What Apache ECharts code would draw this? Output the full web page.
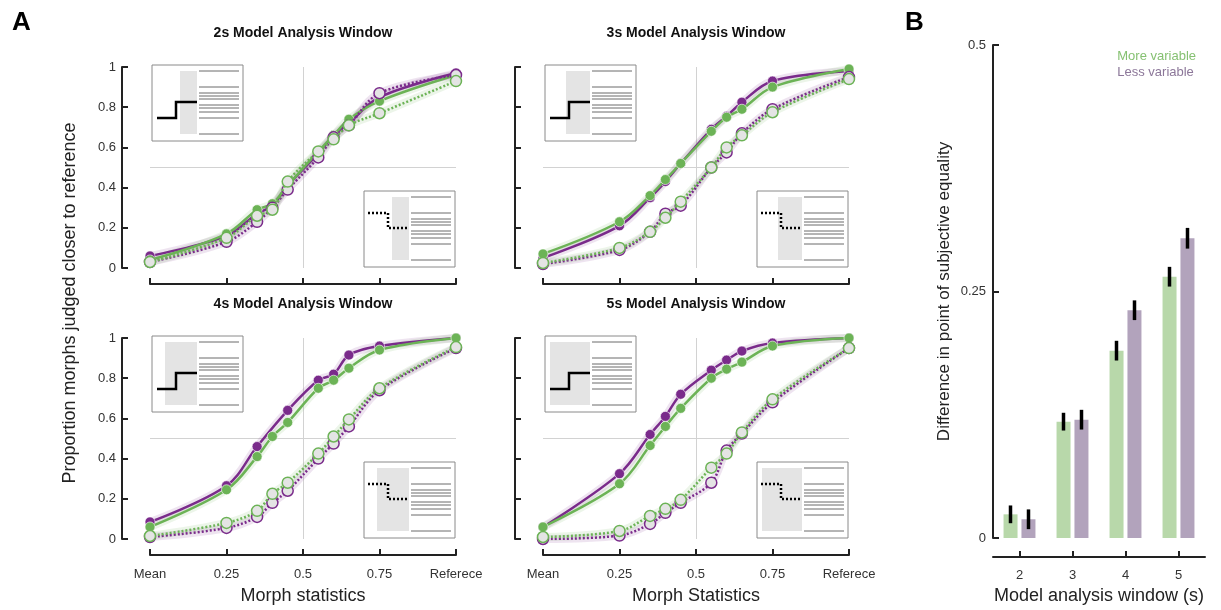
<!DOCTYPE html>
<html>
<head>
<meta charset="utf-8">
<script src="https://cdn.jsdelivr.net/npm/echarts@6/dist/echarts.min.js"></script>
<style>
  html, body { margin: 0; padding: 0; background: #fff; }
  #chart { width: 1221px; height: 610px; }
</style>
</head>
<body>
<div id="chart"></div>
<script>
// morph levels (Mean = 0, Reference = 1)
const morphX = [0, 0.25, 0.35, 0.4, 0.45, 0.55, 0.6, 0.65, 0.75, 1]
const morphTicks = { 0: 'Mean', 0.25: '0.25', 0.5: '0.5', 0.75: '0.75', 1: 'Referece' }
const panelTitles = ['2s Model Analysis Window', '3s Model Analysis Window', '4s Model Analysis Window', '5s Model Analysis Window']

// proportion judged closer to reference, per analysis window
const less2Filled = [0.06, 0.16, 0.27, 0.31, 0.41, 0.57, 0.66, 0.72, 0.85, 0.97]
const more2Filled = [0.04, 0.17, 0.29, 0.32, 0.41, 0.58, 0.66, 0.74, 0.83, 0.96]
const less2Open = [0.03, 0.13, 0.23, 0.30, 0.39, 0.55, 0.65, 0.71, 0.87, 0.96]
const more2Open = [0.03, 0.15, 0.26, 0.29, 0.43, 0.58, 0.64, 0.71, 0.77, 0.93]

const less3Filled = [0.05, 0.21, 0.35, 0.43, 0.52, 0.69, 0.755, 0.825, 0.93, 0.98]
const more3Filled = [0.07, 0.23, 0.36, 0.44, 0.52, 0.68, 0.75, 0.79, 0.90, 0.99]
const less3Open = [0.02, 0.09, 0.18, 0.27, 0.31, 0.50, 0.575, 0.67, 0.79, 0.95]
const more3Open = [0.025, 0.10, 0.18, 0.25, 0.33, 0.50, 0.60, 0.66, 0.775, 0.94]

const less4Filled = [0.085, 0.265, 0.46, null, 0.64, 0.79, 0.82, 0.915, 0.96, 1.0]
const more4Filled = [0.06, 0.245, 0.41, 0.51, 0.58, 0.75, 0.79, 0.85, 0.94, 1.0]
const less4Open = [0.01, 0.055, 0.11, 0.18, 0.24, 0.40, 0.475, 0.56, 0.74, 0.95]
const more4Open = [0.015, 0.08, 0.14, 0.225, 0.28, 0.425, 0.51, 0.595, 0.75, 0.955]

const less5Filled = [0.06, 0.325, 0.52, 0.61, 0.72, 0.84, 0.89, 0.935, 0.975, 1.0]
const more5Filled = [0.06, 0.275, 0.465, 0.56, 0.65, 0.80, 0.845, 0.88, 0.96, 1.0]
const less5Open = [0.0, 0.017, 0.075, 0.13, 0.18, 0.28, 0.44, 0.525, 0.68, 0.95]
const more5Open = [0.01, 0.04, 0.115, 0.15, 0.195, 0.355, 0.425, 0.53, 0.695, 0.95]

// panel B
const windowCats = ['2', '3', '4', '5']
const moreVarPSE = [0.024, 0.118, 0.19, 0.265]
const lessVarPSE = [0.019, 0.12, 0.231, 0.304]
const moreVarErr = [0.009, 0.009, 0.01, 0.01]
const lessVarErr = [0.01, 0.01, 0.01, 0.0105]

const PURPLE = '#7a2b8b'
const GREEN = '#6cb356'
const AXIS = '#222'
const FONT = '"Liberation Sans", Arial, sans-serif'

const panelData = [
    [less2Filled, more2Filled, less2Open, more2Open],
    [less3Filled, more3Filled, less3Open, more3Open],
    [less4Filled, more4Filled, less4Open, more4Open],
    [less5Filled, more5Filled, less5Open, more5Open],
]

const gridPos = [
    { left: 150, top: 67 },
    { left: 543, top: 67 },
    { left: 150, top: 338 },
    { left: 543, top: 338 },
]
const grayWidths = [17, 24, 32, 40]

const pairs = arr => morphX.map((x, i) => [x, arr[i]])

let grids = []
let xAxes = []
let yAxes = []
let series = []
let graphics = []

gridPos.forEach((p, i) => {
    grids.push({ left: p.left, top: p.top, width: 306, height: 201 })
    let bottomRow = i >= 2
    xAxes.push({
        gridIndex: i,
        type: 'value',
        min: 0,
        max: 1,
        interval: 0.25,
        offset: 16,
        splitLine: { show: false },
        axisLine: { show: true, onZero: false, lineStyle: { color: AXIS, width: 2 } },
        axisTick: { show: true, inside: true, length: 6, lineStyle: { color: AXIS, width: 2 } },
        axisLabel: {
            show: bottomRow,
            color: '#333',
            fontSize: 13,
            fontFamily: FONT,
            margin: 13,
            formatter: v => morphTicks[v] || '',
        },
        name: bottomRow ? (i === 2 ? 'Morph statistics' : 'Morph Statistics') : '',
        nameLocation: 'middle',
        nameGap: 32,
        nameTextStyle: { color: '#222', fontSize: 18, fontFamily: FONT },
    })
    yAxes.push({
        gridIndex: i,
        type: 'value',
        min: 0,
        max: 1,
        interval: 0.2,
        offset: 28,
        splitLine: { show: false },
        axisLine: { show: true, onZero: false, lineStyle: { color: AXIS, width: 2 } },
        axisTick: { show: true, inside: true, length: 6, lineStyle: { color: AXIS, width: 2 } },
        axisLabel: { show: i % 2 === 0, color: '#333', fontSize: 13, fontFamily: FONT, margin: 6 },
    })

    let d = panelData[i]
    let styles = [
        { color: PURPLE, open: false },
        { color: GREEN, open: false },
        { color: PURPLE, open: true },
        { color: GREEN, open: true },
    ]
    // faint bands under the curves
    styles.forEach((s, k) => {
        series.push({
            type: 'line',
            xAxisIndex: i,
            yAxisIndex: i,
            data: pairs(d[k]),
            connectNulls: true,
            smooth: 0.35,
            symbol: 'none',
            silent: true,
            z: 1,
            lineStyle: { color: s.color, width: 8, opacity: 0.13 },
        })
    })
    styles.forEach((s, k) => {
        let ser = {
            type: 'line',
            xAxisIndex: i,
            yAxisIndex: i,
            data: pairs(d[k]),
            connectNulls: true,
            smooth: 0.35,
            symbol: 'circle',
            symbolSize: s.open ? 11 : 10,
            z: 3 + k,
            lineStyle: { color: s.color, width: 2.5, type: s.open ? [2, 2] : 'solid' },
            itemStyle: s.open
                ? { color: '#e4e4e4', borderColor: s.color, borderWidth: 1.5 }
                : { color: s.color, borderColor: 'rgba(255,255,255,0.6)', borderWidth: 1 },
        }
        if (k === 0) {
            ser.markLine = {
                silent: true,
                symbol: 'none',
                label: { show: false },
                lineStyle: { color: '#d2d2d2', width: 1, type: 'solid' },
                data: [{ xAxis: 0.5 }, { yAxis: 0.5 }],
                z: 0,
            }
        }
        series.push(ser)
    })

    // panel title
    graphics.push({
        type: 'text',
        x: p.left + 153,
        y: p.top - 34,
        z: 10,
        style: {
            text: panelTitles[i],
            textAlign: 'center',
            textVerticalAlign: 'middle',
            font: 'bold 14px ' + FONT,
            fill: '#111',
        },
    })
    // schematic insets
    graphics.push(makeInset(p.left + 2, p.top - 2, grayWidths[i], false))
    graphics.push(makeInset(p.left + 214, p.top + 124, grayWidths[i], true))
})

function makeInset(x, y, grayW, dotted) {
    let lineYs = [6, 22, 28, 31, 34, 40, 43, 47, 53, 69]
    let children = [
        { type: 'rect', shape: { x: 0, y: 0, width: 91, height: 76 }, style: { fill: '#fff', stroke: '#8a8a8a', lineWidth: 1 } },
        { type: 'rect', shape: { x: 45 - grayW, y: 6, width: grayW, height: 63 }, style: { fill: '#e4e4e4' } },
    ]
    lineYs.forEach(ly => {
        children.push({ type: 'line', shape: { x1: 47, y1: ly, x2: 87, y2: ly }, style: { stroke: '#6a6a6a', lineWidth: 1 } })
    })
    let pts = dotted ? [[4, 22], [24, 22], [24, 37], [45, 37]] : [[5, 53], [24, 53], [24, 37], [45, 37]]
    children.push({
        type: 'polyline',
        shape: { points: pts },
        style: { stroke: '#000', lineWidth: 2.5, fill: null, lineDash: dotted ? [2, 2] : null },
    })
    return { type: 'group', x: x, y: y, z: 20, children: children }
}

// panel B grid
grids.push({ left: 993, top: 45, width: 212, height: 494 })
xAxes.push({
    gridIndex: 4,
    type: 'category',
    data: windowCats,
    offset: 19,
    axisLine: { show: true, onZero: false, lineStyle: { color: AXIS, width: 2 } },
    axisTick: { show: true, inside: true, alignWithLabel: true, length: 6, lineStyle: { color: AXIS, width: 2 } },
    axisLabel: { color: '#333', fontSize: 13, fontFamily: FONT, margin: 12 },
    name: 'Model analysis window (s)',
    nameLocation: 'middle',
    nameGap: 30,
    nameTextStyle: { color: '#222', fontSize: 18, fontFamily: FONT },
})
yAxes.push({
    gridIndex: 4,
    type: 'value',
    min: 0,
    max: 0.5,
    interval: 0.25,
    splitLine: { show: false },
    axisLine: { show: true, onZero: false, lineStyle: { color: AXIS, width: 2 } },
    axisTick: { show: true, inside: true, length: 6, lineStyle: { color: AXIS, width: 2 } },
    axisLabel: { color: '#333', fontSize: 13, fontFamily: FONT, margin: 7 },
    name: 'Difference in point of subjective equality',
    nameLocation: 'middle',
    nameGap: 40,
    nameTextStyle: { color: '#222', fontSize: 17, fontFamily: FONT },
})
series.push({
    name: 'More variable',
    type: 'bar',
    xAxisIndex: 4,
    yAxisIndex: 4,
    data: moreVarPSE,
    barWidth: 14,
    barGap: '28%',
    itemStyle: { color: '#b8d8aa' },
})
series.push({
    name: 'Less variable',
    type: 'bar',
    xAxisIndex: 4,
    yAxisIndex: 4,
    data: lessVarPSE,
    barWidth: 14,
    itemStyle: { color: '#b2a3bc' },
})
function errorSeries(vals, errs, dx) {
    return {
        type: 'custom',
        xAxisIndex: 4,
        yAxisIndex: 4,
        z: 5,
        data: vals.map((v, i) => [i, v - errs[i], v + errs[i]]),
        renderItem: (params, api) => {
            let lo = api.coord([api.value(0), api.value(1)])
            let hi = api.coord([api.value(0), api.value(2)])
            return {
                type: 'line',
                shape: { x1: lo[0] + dx, y1: lo[1], x2: hi[0] + dx, y2: hi[1] },
                style: { stroke: '#000', lineWidth: 3.5 },
            }
        },
    }
}
series.push(errorSeries(moreVarPSE, moreVarErr, -9))
series.push(errorSeries(lessVarPSE, lessVarErr, 9))

// panel letters and shared y label
graphics.push({ type: 'text', x: 12, y: 10, style: { text: 'A', font: 'bold 26px ' + FONT, fill: '#000' } })
graphics.push({ type: 'text', x: 905, y: 10, style: { text: 'B', font: 'bold 26px ' + FONT, fill: '#000' } })
graphics.push({
    type: 'text',
    x: 70,
    y: 303,
    rotation: Math.PI / 2,
    style: {
        text: 'Proportion morphs judged closer to reference',
        textAlign: 'center',
        textVerticalAlign: 'middle',
        font: '18px ' + FONT,
        fill: '#222',
    },
})

let chart = echarts.init(document.getElementById('chart'))
chart.setOption({
    backgroundColor: '#fff',
    animation: false,
    grid: grids,
    xAxis: xAxes,
    yAxis: yAxes,
    legend: {
        orient: 'vertical',
        right: 20,
        top: 44,
        itemGap: 3,
        itemWidth: 0,
        icon: 'none',
        data: [
            { name: 'More variable', textStyle: { color: '#86c172' } },
            { name: 'Less variable', textStyle: { color: '#8c7799' } },
        ],
        textStyle: { fontSize: 13, fontFamily: FONT },
    },
    series: series,
    graphic: graphics,
})
</script>
</body>
</html>
